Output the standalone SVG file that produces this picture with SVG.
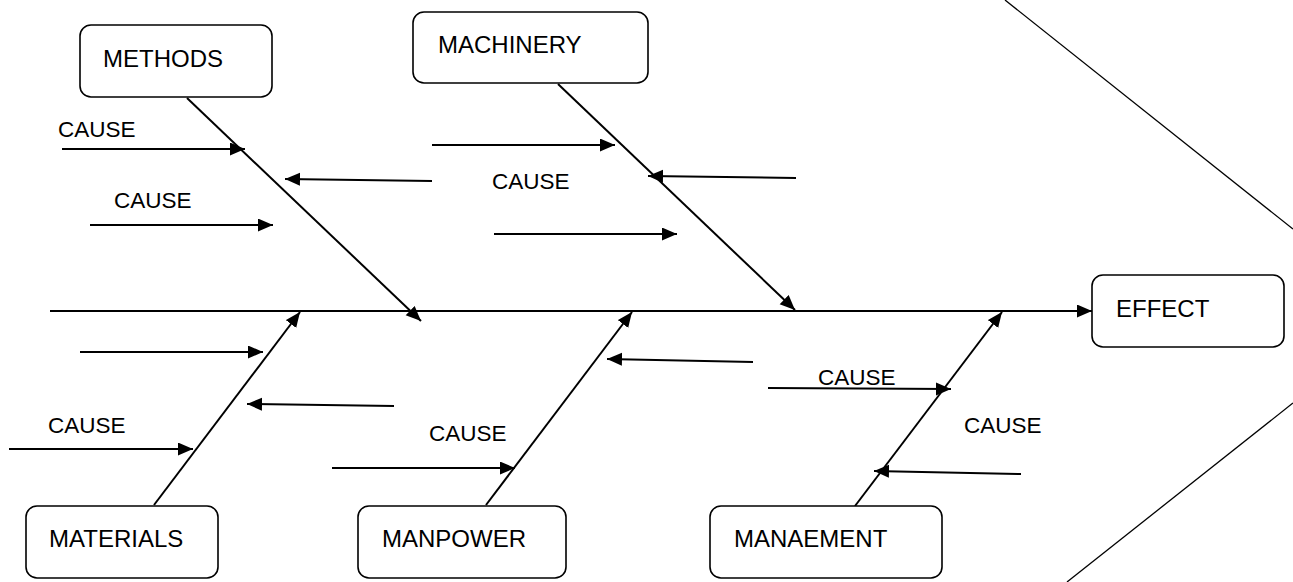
<svg xmlns="http://www.w3.org/2000/svg" width="1293" height="582" viewBox="0 0 1293 582">
<style>
.box{fill:#fff;stroke:#000;stroke-width:1.6}
.lbl{font-family:"Liberation Sans",Arial,sans-serif;font-size:24px;fill:#000}
.cause{font-family:"Liberation Sans",Arial,sans-serif;font-size:22.5px;fill:#000}
.ln{stroke:#000;stroke-width:2;fill:none}
.thin{stroke:#000;stroke-width:1.3;fill:none}
</style>
<defs>
<marker id="ah" markerUnits="userSpaceOnUse" markerWidth="16" markerHeight="14" refX="15" refY="6.5" orient="auto">
<path d="M0,0 L15,6.5 L0,13 z" fill="#000"/>
</marker>
</defs>
<g id="outline">
<line class="thin" x1="1005" y1="0" x2="1293" y2="229"/>
<line class="thin" x1="1067" y1="582" x2="1293" y2="403"/>
</g>
<g id="connectors">
<line class="ln" x1="50" y1="311" x2="1092" y2="311" marker-end="url(#ah)"/>
<line class="ln" x1="187" y1="98" x2="421" y2="321" marker-end="url(#ah)"/>
<line class="ln" x1="558" y1="84" x2="795" y2="310" marker-end="url(#ah)"/>
<line class="ln" x1="154" y1="505" x2="300" y2="312" marker-end="url(#ah)"/>
<line class="ln" x1="486" y1="505" x2="632" y2="312" marker-end="url(#ah)"/>
<line class="ln" x1="855" y1="506" x2="1002" y2="312" marker-end="url(#ah)"/>
<line class="ln" x1="62" y1="149" x2="245" y2="149" marker-end="url(#ah)"/>
<line class="ln" x1="432" y1="181" x2="285" y2="179" marker-end="url(#ah)"/>
<line class="ln" x1="90" y1="225" x2="273" y2="225" marker-end="url(#ah)"/>
<line class="ln" x1="432" y1="145" x2="615" y2="145" marker-end="url(#ah)"/>
<line class="ln" x1="796" y1="178" x2="648" y2="176" marker-end="url(#ah)"/>
<line class="ln" x1="494" y1="234" x2="677" y2="234" marker-end="url(#ah)"/>
<line class="ln" x1="80" y1="352" x2="263" y2="352" marker-end="url(#ah)"/>
<line class="ln" x1="394" y1="406" x2="247" y2="404" marker-end="url(#ah)"/>
<line class="ln" x1="9" y1="449" x2="193" y2="449" marker-end="url(#ah)"/>
<line class="ln" x1="753" y1="362" x2="607" y2="359" marker-end="url(#ah)"/>
<line class="ln" x1="332" y1="468" x2="515" y2="468" marker-end="url(#ah)"/>
<line class="ln" x1="768" y1="388" x2="951" y2="389" marker-end="url(#ah)"/>
<line class="ln" x1="1021" y1="474" x2="874" y2="471" marker-end="url(#ah)"/>
</g>
<g id="cause-labels">
<text class="cause" x="58" y="137">CAUSE</text>
<text class="cause" x="114" y="208">CAUSE</text>
<text class="cause" x="492" y="189">CAUSE</text>
<text class="cause" x="48" y="433">CAUSE</text>
<text class="cause" x="429" y="441">CAUSE</text>
<text class="cause" x="818" y="385">CAUSE</text>
<text class="cause" x="964" y="433">CAUSE</text>
</g>
<g id="methods">
<rect class="box" x="80" y="25" width="192" height="72" rx="11"/>
<text class="lbl" x="103" y="67">METHODS</text>
</g>
<g id="machinery">
<rect class="box" x="413" y="12" width="235" height="71" rx="11"/>
<text class="lbl" x="438" y="53">MACHINERY</text>
</g>
<g id="effect">
<rect class="box" x="1092" y="275" width="192" height="72" rx="11"/>
<text class="lbl" x="1116" y="317">EFFECT</text>
</g>
<g id="materials">
<rect class="box" x="26" y="506" width="192" height="72" rx="11"/>
<text class="lbl" x="49" y="547">MATERIALS</text>
</g>
<g id="manpower">
<rect class="box" x="358" y="506" width="208" height="72" rx="11"/>
<text class="lbl" x="382" y="547">MANPOWER</text>
</g>
<g id="manaement">
<rect class="box" x="710" y="506" width="232" height="72" rx="11"/>
<text class="lbl" x="734" y="547">MANAEMENT</text>
</g>
</svg>
